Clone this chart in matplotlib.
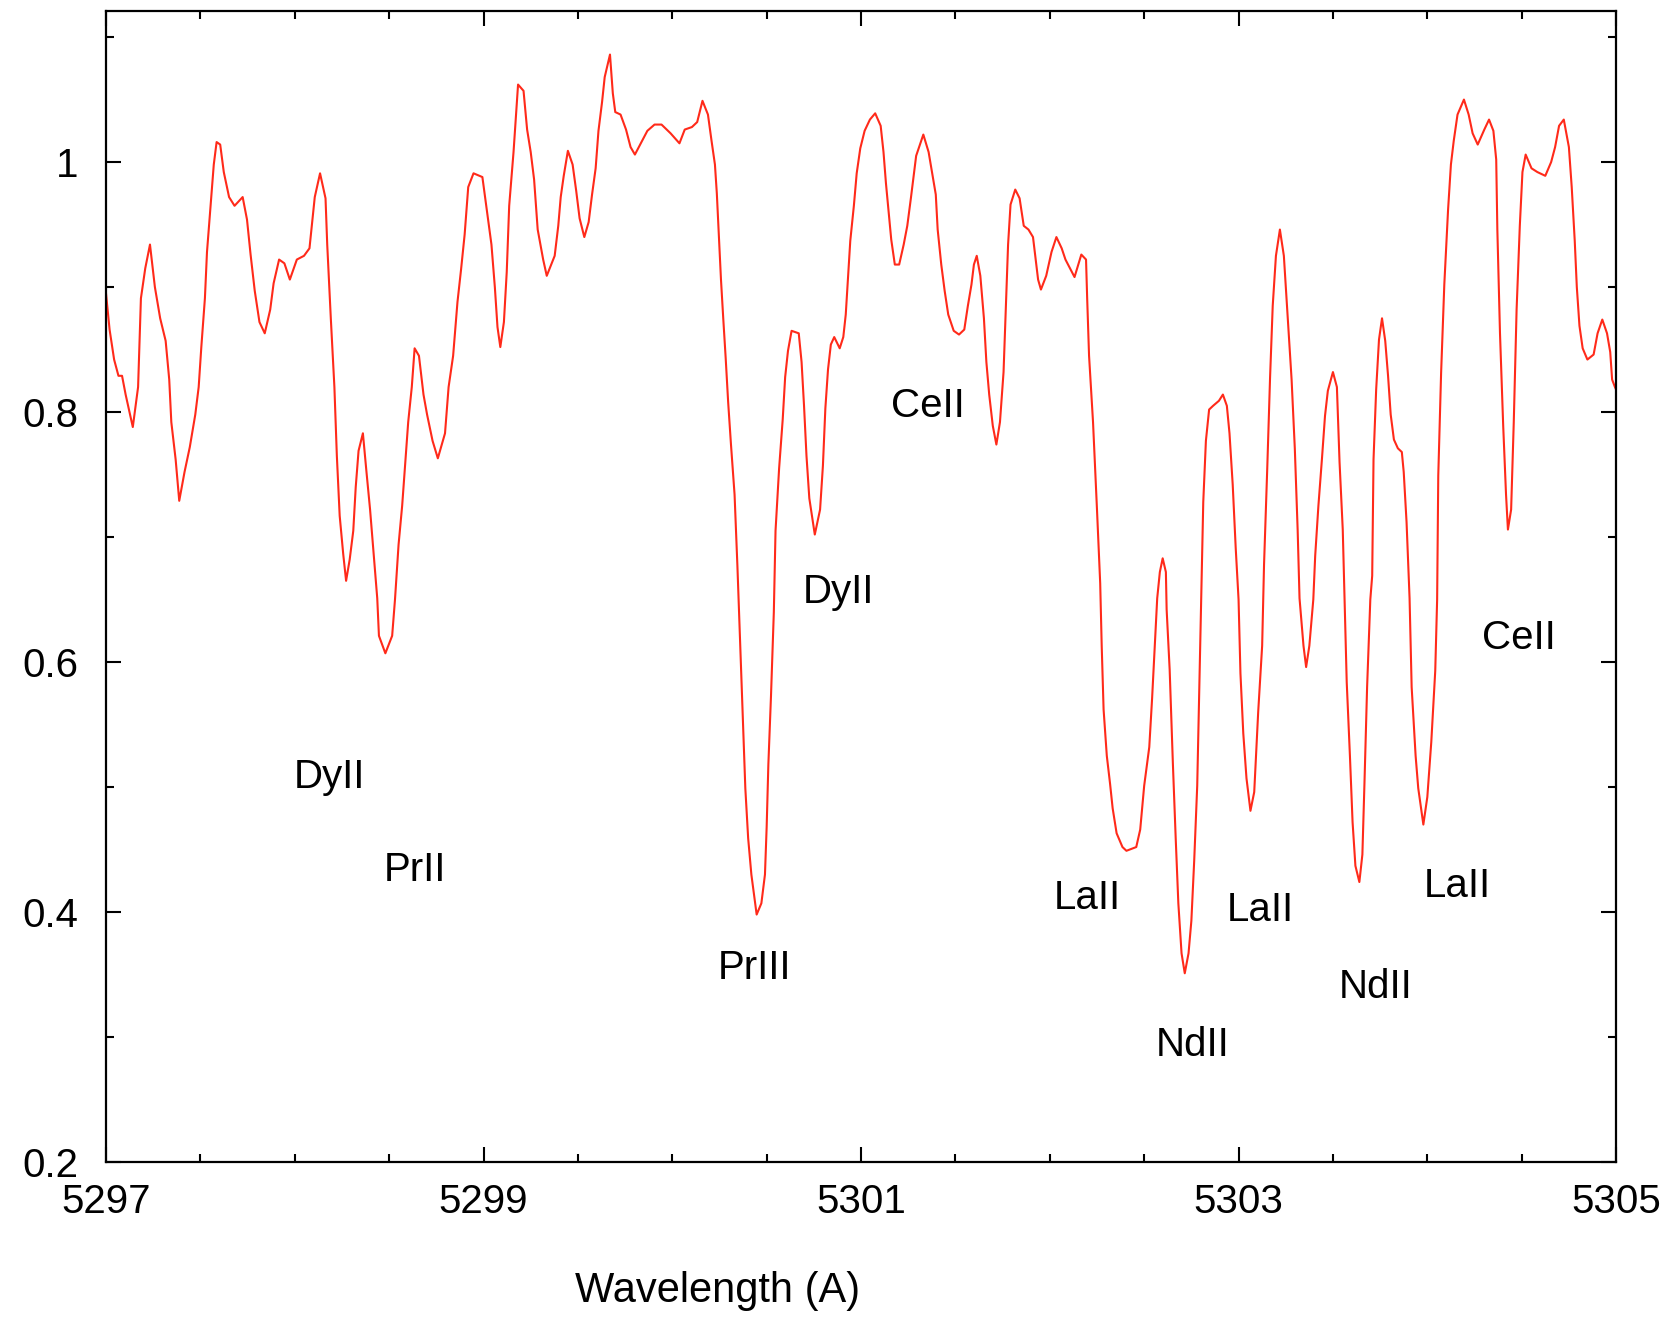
import matplotlib
matplotlib.use("Agg")
import matplotlib.pyplot as plt
from matplotlib.ticker import MultipleLocator, FuncFormatter

plt.rcParams['font.family'] = ['Liberation Sans', 'DejaVu Sans']

# spectrum (wavelength in A, normalised flux)
wavelength = [
    5297.000, 5297.019, 5297.043, 5297.066, 5297.085, 5297.104, 5297.142, 5297.170, 5297.185, 5297.208,
    5297.233, 5297.259, 5297.287, 5297.316, 5297.335, 5297.346, 5297.369, 5297.388, 5297.416, 5297.444,
    5297.473, 5297.491, 5297.505, 5297.524, 5297.535, 5297.554, 5297.571, 5297.586, 5297.605, 5297.624,
    5297.652, 5297.681, 5297.724, 5297.747, 5297.766, 5297.788, 5297.813, 5297.841, 5297.870, 5297.888,
    5297.917, 5297.945, 5297.974, 5298.011, 5298.049, 5298.078, 5298.106, 5298.134, 5298.163, 5298.172,
    5298.191, 5298.210, 5298.223, 5298.238, 5298.257, 5298.272, 5298.291, 5298.310, 5298.323, 5298.338,
    5298.361, 5298.380, 5298.399, 5298.418, 5298.437, 5298.446, 5298.480, 5298.516, 5298.531, 5298.550,
    5298.569, 5298.588, 5298.601, 5298.620, 5298.635, 5298.658, 5298.682, 5298.701, 5298.730, 5298.758,
    5298.796, 5298.815, 5298.839, 5298.862, 5298.881, 5298.900, 5298.919, 5298.947, 5298.994, 5299.017,
    5299.042, 5299.060, 5299.074, 5299.089, 5299.108, 5299.123, 5299.136, 5299.159, 5299.183, 5299.212,
    5299.231, 5299.250, 5299.268, 5299.287, 5299.316, 5299.335, 5299.377, 5299.396, 5299.409, 5299.425,
    5299.447, 5299.472, 5299.491, 5299.509, 5299.534, 5299.557, 5299.575, 5299.594, 5299.609, 5299.628,
    5299.642, 5299.670, 5299.685, 5299.698, 5299.726, 5299.755, 5299.779, 5299.802, 5299.840, 5299.868,
    5299.906, 5299.943, 5299.991, 5300.038, 5300.066, 5300.104, 5300.132, 5300.160, 5300.189, 5300.208,
    5300.226, 5300.236, 5300.245, 5300.258, 5300.270, 5300.283, 5300.296, 5300.311, 5300.330, 5300.345,
    5300.358, 5300.372, 5300.387, 5300.402, 5300.419, 5300.447, 5300.472, 5300.491, 5300.500, 5300.509,
    5300.523, 5300.538, 5300.547, 5300.566, 5300.585, 5300.598, 5300.613, 5300.632, 5300.670, 5300.685,
    5300.698, 5300.711, 5300.726, 5300.755, 5300.783, 5300.798, 5300.811, 5300.825, 5300.840, 5300.858,
    5300.887, 5300.906, 5300.919, 5300.930, 5300.943, 5300.962, 5300.977, 5300.996, 5301.019, 5301.047,
    5301.075, 5301.104, 5301.119, 5301.132, 5301.145, 5301.160, 5301.179, 5301.202, 5301.226, 5301.245,
    5301.264, 5301.292, 5301.330, 5301.358, 5301.377, 5301.396, 5301.406, 5301.425, 5301.443, 5301.462,
    5301.491, 5301.519, 5301.547, 5301.566, 5301.585, 5301.598, 5301.613, 5301.632, 5301.651, 5301.664,
    5301.679, 5301.698, 5301.717, 5301.736, 5301.755, 5301.768, 5301.779, 5301.792, 5301.817, 5301.840,
    5301.862, 5301.887, 5301.911, 5301.925, 5301.938, 5301.953, 5301.981, 5302.009, 5302.035, 5302.063,
    5302.083, 5302.131, 5302.167, 5302.192, 5302.198, 5302.208, 5302.229, 5302.250, 5302.267, 5302.275,
    5302.285, 5302.302, 5302.319, 5302.333, 5302.354, 5302.385, 5302.406, 5302.458, 5302.479, 5302.500,
    5302.527, 5302.542, 5302.556, 5302.569, 5302.583, 5302.598, 5302.615, 5302.619, 5302.635, 5302.652,
    5302.667, 5302.681, 5302.698, 5302.715, 5302.735, 5302.750, 5302.765, 5302.781, 5302.792, 5302.802,
    5302.813, 5302.827, 5302.844, 5302.865, 5302.896, 5302.917, 5302.938, 5302.952, 5302.969, 5302.985,
    5303.000, 5303.010, 5303.025, 5303.042, 5303.063, 5303.083, 5303.104, 5303.125, 5303.135, 5303.152,
    5303.167, 5303.181, 5303.198, 5303.219, 5303.240, 5303.260, 5303.281, 5303.298, 5303.313, 5303.323,
    5303.344, 5303.358, 5303.375, 5303.396, 5303.406, 5303.423, 5303.442, 5303.458, 5303.473, 5303.500,
    5303.521, 5303.535, 5303.552, 5303.573, 5303.590, 5303.604, 5303.619, 5303.640, 5303.656, 5303.667,
    5303.681, 5303.698, 5303.708, 5303.715, 5303.729, 5303.744, 5303.760, 5303.777, 5303.792, 5303.806,
    5303.823, 5303.844, 5303.865, 5303.875, 5303.890, 5303.906, 5303.917, 5303.938, 5303.952, 5303.979,
    5304.000, 5304.021, 5304.042, 5304.052, 5304.058, 5304.073, 5304.090, 5304.110, 5304.125, 5304.140,
    5304.160, 5304.194, 5304.219, 5304.240, 5304.267, 5304.302, 5304.327, 5304.350, 5304.365, 5304.371,
    5304.385, 5304.402, 5304.417, 5304.427, 5304.444, 5304.458, 5304.473, 5304.490, 5304.504, 5304.521,
    5304.552, 5304.583, 5304.625, 5304.656, 5304.677, 5304.698, 5304.723, 5304.750, 5304.765, 5304.781,
    5304.792, 5304.806, 5304.823, 5304.848, 5304.881, 5304.902, 5304.927, 5304.952, 5304.969, 5304.979,
    5304.994, 5305.000,
]
flux = [
    0.895, 0.866, 0.842, 0.829, 0.829, 0.814, 0.788, 0.820, 0.891, 0.915,
    0.934, 0.900, 0.875, 0.857, 0.826, 0.792, 0.762, 0.729, 0.752, 0.772,
    0.798, 0.820, 0.852, 0.891, 0.928, 0.965, 0.998, 1.016, 1.014, 0.992,
    0.972, 0.965, 0.972, 0.954, 0.926, 0.897, 0.872, 0.863, 0.882, 0.903,
    0.922, 0.919, 0.906, 0.922, 0.925, 0.931, 0.972, 0.991, 0.971, 0.934,
    0.875, 0.820, 0.765, 0.717, 0.686, 0.665, 0.682, 0.705, 0.740, 0.769,
    0.783, 0.752, 0.722, 0.686, 0.651, 0.621, 0.607, 0.621, 0.650, 0.694,
    0.725, 0.765, 0.792, 0.820, 0.851, 0.845, 0.814, 0.798, 0.777, 0.763,
    0.783, 0.820, 0.845, 0.888, 0.914, 0.942, 0.980, 0.991, 0.988, 0.962,
    0.934, 0.900, 0.868, 0.852, 0.872, 0.912, 0.965, 1.008, 1.062, 1.057,
    1.026, 1.008, 0.986, 0.946, 0.922, 0.909, 0.925, 0.949, 0.972, 0.989,
    1.009, 0.998, 0.977, 0.955, 0.940, 0.952, 0.974, 0.995, 1.025, 1.048,
    1.068, 1.086, 1.055, 1.040, 1.038, 1.026, 1.012, 1.006, 1.017, 1.025,
    1.030, 1.030, 1.023, 1.015, 1.026, 1.028, 1.032, 1.049, 1.038, 1.017,
    0.998, 0.975, 0.946, 0.906, 0.875, 0.843, 0.808, 0.774, 0.734, 0.677,
    0.622, 0.562, 0.499, 0.459, 0.430, 0.398, 0.407, 0.430, 0.468, 0.518,
    0.573, 0.640, 0.705, 0.755, 0.794, 0.828, 0.849, 0.865, 0.863, 0.840,
    0.805, 0.765, 0.731, 0.702, 0.722, 0.757, 0.803, 0.834, 0.854, 0.860,
    0.851, 0.860, 0.878, 0.905, 0.937, 0.965, 0.991, 1.011, 1.025, 1.034,
    1.039, 1.029, 1.008, 0.983, 0.962, 0.938, 0.918, 0.918, 0.934, 0.949,
    0.971, 1.005, 1.022, 1.008, 0.991, 0.974, 0.946, 0.918, 0.897, 0.878,
    0.865, 0.862, 0.866, 0.885, 0.902, 0.918, 0.925, 0.909, 0.875, 0.840,
    0.814, 0.789, 0.774, 0.792, 0.832, 0.886, 0.934, 0.966, 0.978, 0.971,
    0.949, 0.946, 0.940, 0.922, 0.906, 0.898, 0.909, 0.928, 0.940, 0.931,
    0.922, 0.908, 0.926, 0.922, 0.891, 0.845, 0.792, 0.722, 0.663, 0.613,
    0.562, 0.525, 0.503, 0.483, 0.463, 0.452, 0.449, 0.452, 0.466, 0.501,
    0.532, 0.571, 0.613, 0.651, 0.672, 0.683, 0.672, 0.642, 0.594, 0.519,
    0.459, 0.407, 0.367, 0.351, 0.367, 0.393, 0.441, 0.501, 0.580, 0.650,
    0.728, 0.777, 0.802, 0.805, 0.809, 0.814, 0.805, 0.783, 0.742, 0.691,
    0.650, 0.591, 0.543, 0.507, 0.481, 0.496, 0.560, 0.613, 0.678, 0.755,
    0.828, 0.885, 0.925, 0.946, 0.925, 0.877, 0.826, 0.771, 0.706, 0.651,
    0.613, 0.596, 0.613, 0.650, 0.685, 0.725, 0.763, 0.797, 0.817, 0.832,
    0.820, 0.760, 0.706, 0.584, 0.525, 0.472, 0.437, 0.424, 0.446, 0.503,
    0.580, 0.650, 0.669, 0.762, 0.818, 0.858, 0.875, 0.857, 0.829, 0.798,
    0.778, 0.771, 0.768, 0.752, 0.712, 0.651, 0.580, 0.525, 0.499, 0.470,
    0.492, 0.536, 0.593, 0.650, 0.749, 0.831, 0.902, 0.962, 0.998, 1.017,
    1.038, 1.050, 1.038, 1.023, 1.014, 1.026, 1.034, 1.025, 1.002, 0.946,
    0.863, 0.789, 0.734, 0.706, 0.722, 0.792, 0.882, 0.949, 0.992, 1.006,
    0.995, 0.992, 0.989, 1.000, 1.012, 1.029, 1.034, 1.012, 0.980, 0.937,
    0.900, 0.869, 0.851, 0.842, 0.846, 0.863, 0.874, 0.863, 0.848, 0.826,
    0.820, 0.818,
]

# line identifications: label, wavelength, flux of label position
line_names = ['DyII', 'PrII', 'PrIII', 'DyII', 'CeII', 'LaII', 'NdII', 'LaII', 'NdII', 'LaII', 'CeII']
line_x = [5297.995, 5298.47, 5300.24, 5300.69, 5301.16, 5302.02, 5302.56, 5302.94, 5303.53, 5303.98, 5304.29]
line_y = [0.508, 0.434, 0.355, 0.656, 0.805, 0.411, 0.294, 0.402, 0.340, 0.421, 0.619]

x_ticks = [5297, 5299, 5301, 5303, 5305]
y_ticks = [0.2, 0.4, 0.6, 0.8, 1.0]

fig = plt.figure(figsize=(16.64, 13.19), dpi=100)
ax = fig.add_axes([0.0637, 0.119, 0.9075, 0.8728])

ax.plot(wavelength, flux, color='#ff2a1a', lw=1.5)

for name, x, y in zip(line_names, line_x, line_y):
    ax.text(x, y, name, fontsize=29, ha='left', va='center')

ax.set_xlim(5297, 5305)
ax.set_ylim(0.2, 1.121)
ax.set_xticks(x_ticks)
ax.set_yticks(y_ticks)
ax.xaxis.set_minor_locator(MultipleLocator(0.5))
ax.yaxis.set_minor_locator(MultipleLocator(0.1))
ax.yaxis.set_major_formatter(FuncFormatter(lambda v, p: f'{v:g}'))
ax.xaxis.set_major_formatter(FuncFormatter(lambda v, p: f'{v:g}'))

ax.tick_params(which='both', direction='in', top=True, right=True, width=1.5)
ax.tick_params(which='major', length=11)
ax.tick_params(which='minor', length=6)
ax.tick_params(axis='x', which='major', labelsize=29, pad=15)
ax.tick_params(axis='y', which='major', labelsize=29, pad=20)
for s in ax.spines.values():
    s.set_linewidth(1.6)

ax.set_xlabel('Wavelength (A)', fontsize=30)
ax.xaxis.set_label_coords(0.405, -0.095)

fig.savefig('out.png', dpi=100)
